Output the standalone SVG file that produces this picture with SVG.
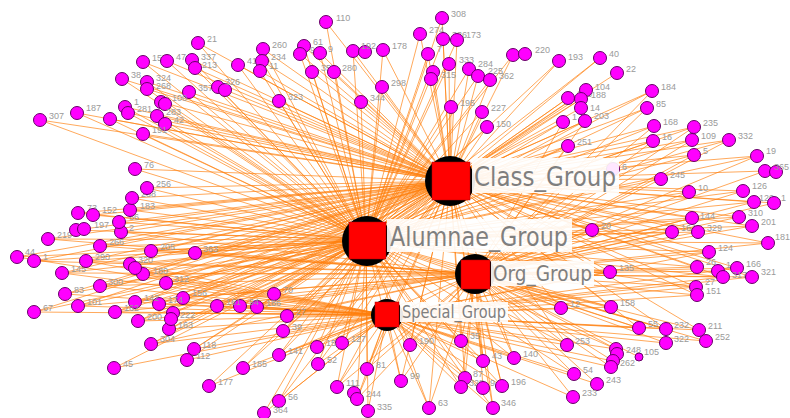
<svg xmlns="http://www.w3.org/2000/svg" width="790" height="418" viewBox="0 0 790 418">
<style>
.e{fill:none;stroke:#ff7f0e;stroke-width:0.8;stroke-opacity:0.85}
.n circle{fill:#f0f;stroke:#660066;stroke-width:1}
.n text{font-family:"Liberation Sans",Arial,sans-serif;font-size:9px;fill:#9a9a9a}
.hb{fill:#000}
.hs{fill:#f00;stroke:#b00000;stroke-width:0.5}
.lb{fill:#fff;fill-opacity:0.9}
.hl{font-family:"DejaVu Sans",Verdana,sans-serif;fill:#7f7f7f}
</style>
<rect width="790" height="418" fill="#fff"/>
<g id="connectors">
<path class="e" d="M143 62L450 181M167 61L450 181M198 43L450 181M192 60L450 181M195 68L450 181M122 79L450 181M147 82L450 181M147 89L450 181M189 92L450 181M161 102L450 181M125 107L450 181M128 113L450 181M157 116L450 181M165 124L450 181M143 134L450 181M77 113L450 181M40 120L450 181M110 119L450 181M238 65L450 181M263 49L450 181M262 61L450 181M260 71L450 181M218 87L450 181M279 101L450 181M326 22L450 181M304 46L450 181M300 54L450 181M320 53L450 181M312 72L450 181M334 72L450 181M353 51L450 181M383 50L450 181M361 102L450 181M382 87L450 181M442 18L450 181M420 34L450 181M443 39L450 181M457 40L450 181M428 54L450 181M449 64L450 181M433 72L450 181M469 69L450 181M478 76L450 181M490 80L450 181M513 55L450 181M559 61L450 181M451 107L450 181M482 112L450 181M487 127L450 181M568 98L450 181M586 90L450 181M581 99L450 181M581 108L450 181M585 121L450 181M563 122L450 181M600 58L450 181M617 73L450 181M652 91L450 181M647 108L450 181M654 126L450 181M694 127L450 181M653 141L450 181M692 140L450 181M729 140L450 181M694 155L450 181M757 156L450 181M613 169L450 181M661 179L450 181M765 171L450 181M689 192L450 181M743 191L450 181M754 202L450 181M774 203L450 181M692 218L450 181M739 217L450 181M752 226L450 181M592 230L450 181M672 232L450 181M698 232L450 181M768 243L450 181M709 252L450 181M610 272L450 181M697 267L450 181M737 268L450 181M723 277L450 181M752 277L450 181M696 287L450 181M697 295L450 181M611 307L450 181M639 328L450 181M666 329L450 181M699 330L450 181M561 308L450 181M567 345L450 181M514 358L450 181M483 361L450 181M461 341L450 181M410 345L450 181M401 381L450 181M465 378L450 181M502 386L450 181M429 408L450 181M493 408L450 181M367 369L450 181M342 343L450 181M317 347L450 181M318 364L450 181M337 387L450 181M357 399L450 181M279 401L450 181M279 355L450 181M243 368L450 181M283 331L450 181M287 316L450 181M274 294L450 181M257 307L450 181M240 306L450 181M217 306L450 181M183 298L450 181M194 349L450 181M151 344L450 181M169 329L450 181M173 313L450 181M138 321L450 181M159 304L450 181M135 302L450 181M115 312L450 181M78 306L450 181M34 312L450 181M65 294L450 181M100 286L450 181M166 283L450 181M143 274L450 181M62 273L450 181M130 264L450 181M86 261L450 181M17 257L450 181M34 261L450 181M151 251L450 181M100 246L450 181M48 239L450 181M121 232L450 181M76 230L450 181M119 222L450 181M78 213L450 181M93 215L450 181M130 210L450 181M132 198L450 181M147 188L450 181M135 169L450 181M195 253L450 181M568 146L450 181"/>
<path class="e" d="M143 62L366 240M167 61L366 240M198 43L366 240M192 60L366 240M195 68L366 240M122 79L366 240M147 82L366 240M147 89L366 240M189 92L366 240M161 102L366 240M125 107L366 240M128 113L366 240M157 116L366 240M165 124L366 240M143 134L366 240M77 113L366 240M40 120L366 240M110 119L366 240M238 65L366 240M263 49L366 240M262 61L366 240M260 71L366 240M218 87L366 240M279 101L366 240M326 22L366 240M304 46L366 240M300 54L366 240M320 53L366 240M312 72L366 240M334 72L366 240M353 51L366 240M383 50L366 240M361 102L366 240M382 87L366 240M442 18L366 240M420 34L366 240M443 39L366 240M457 40L366 240M428 54L366 240M449 64L366 240M433 72L366 240M469 69L366 240M478 76L366 240M490 80L366 240M513 55L366 240M559 61L366 240M451 107L366 240M482 112L366 240M487 127L366 240M568 98L366 240M586 90L366 240M581 99L366 240M585 121L366 240M563 122L366 240M600 58L366 240M652 91L366 240M647 108L366 240M654 126L366 240M694 127L366 240M653 141L366 240M692 140L366 240M729 140L366 240M694 155L366 240M757 156L366 240M661 179L366 240M689 192L366 240M743 191L366 240M754 202L366 240M692 218L366 240M739 217L366 240M752 226L366 240M592 230L366 240M672 232L366 240M698 232L366 240M768 243L366 240M709 252L366 240M610 272L366 240M697 267L366 240M723 277L366 240M696 287L366 240M611 307L366 240M639 328L366 240M666 329L366 240M616 349L366 240M561 308L366 240M567 345L366 240M574 374L366 240M514 358L366 240M483 361L366 240M461 341L366 240M410 345L366 240M401 381L366 240M465 378L366 240M461 387L366 240M502 386L366 240M429 408L366 240M493 408L366 240M367 369L366 240M342 343L366 240M317 347L366 240M318 364L366 240M337 387L366 240M357 399L366 240M368 411L366 240M279 401L366 240M264 413L366 240M279 355L366 240M243 368L366 240M209 386L366 240M283 331L366 240M287 316L366 240M274 294L366 240M257 307L366 240M240 306L366 240M217 306L366 240M183 298L366 240M194 349L366 240M187 360L366 240M151 344L366 240M114 368L366 240M169 329L366 240M173 313L366 240M138 321L366 240M159 304L366 240M135 302L366 240M115 312L366 240M78 306L366 240M34 312L366 240M65 294L366 240M100 286L366 240M166 283L366 240M143 274L366 240M62 273L366 240M130 264L366 240M86 261L366 240M17 257L366 240M34 261L366 240M151 251L366 240M100 246L366 240M48 239L366 240M121 232L366 240M76 230L366 240M119 222L366 240M78 213L366 240M93 215L366 240M130 210L366 240M132 198L366 240M147 188L366 240M135 169L366 240M195 253L366 240M568 146L366 240"/>
<path class="e" d="M652 91L475 274M647 108L475 274M654 126L475 274M694 127L475 274M653 141L475 274M692 140L475 274M729 140L475 274M694 155L475 274M757 156L475 274M661 179L475 274M765 171L475 274M689 192L475 274M743 191L475 274M754 202L475 274M774 203L475 274M692 218L475 274M739 217L475 274M752 226L475 274M592 230L475 274M672 232L475 274M698 232L475 274M768 243L475 274M709 252L475 274M610 272L475 274M697 267L475 274M737 268L475 274M718 271L475 274M723 277L475 274M752 277L475 274M696 287L475 274M697 295L475 274M611 307L475 274M639 328L475 274M666 329L475 274M666 343L475 274M699 330L475 274M706 341L475 274M616 349L475 274M639 357L475 274M613 361L475 274M611 367L475 274M597 384L475 274M561 308L475 274M567 345L475 274M574 374L475 274M573 397L475 274M514 358L475 274M483 361L475 274M461 341L475 274M410 345L475 274M401 381L475 274M465 378L475 274M461 387L475 274M483 388L475 274M502 386L475 274M429 408L475 274M493 408L475 274M367 369L475 274M342 343L475 274M337 387L475 274M357 399L475 274M279 355L475 274M287 316L475 274M257 307L475 274M217 306L475 274M183 298L475 274M151 344L475 274M138 321L475 274M115 312L475 274M78 306L475 274M100 286L475 274M143 274L475 274M62 273L475 274M86 261L475 274M34 261L475 274M151 251L475 274M100 246L475 274M48 239L475 274M121 232L475 274M195 253L475 274M568 146L475 274M585 121L475 274M563 122L475 274"/>
<path class="e" d="M696 287L387 315M697 295L387 315M611 307L387 315M639 328L387 315M666 329L387 315M666 343L387 315M699 330L387 315M706 341L387 315M616 349L387 315M613 361L387 315M611 367L387 315M597 384L387 315M561 308L387 315M567 345L387 315M574 374L387 315M573 397L387 315M514 358L387 315M483 361L387 315M461 341L387 315M410 345L387 315M401 381L387 315M465 378L387 315M461 387L387 315M483 388L387 315M502 386L387 315M429 408L387 315M493 408L387 315M367 369L387 315M342 343L387 315M317 347L387 315M318 364L387 315M337 387L387 315M357 399L387 315M368 411L387 315M279 401L387 315M264 413L387 315M279 355L387 315M243 368L387 315M209 386L387 315M283 331L387 315M287 316L387 315M274 294L387 315M257 307L387 315M240 306L387 315M217 306L387 315M183 298L387 315M194 349L387 315M187 360L387 315M151 344L387 315M114 368L387 315M169 329L387 315M173 313L387 315M138 321L387 315M159 304L387 315M135 302L387 315M115 312L387 315M78 306L387 315M34 312L387 315M65 294L387 315M100 286L387 315M166 283L387 315M143 274L387 315M62 273L387 315M130 264L387 315M86 261L387 315M17 257L387 315M610 272L387 315M723 277L387 315M752 277L387 315M737 268L387 315M709 252L387 315"/>
</g>
<g id="hub-shadows">
<circle class="hb" cx="450" cy="181" r="25"/>
<circle class="hb" cx="367" cy="241" r="25"/>
<circle class="hb" cx="475" cy="274" r="20"/>
<circle class="hb" cx="387" cy="315" r="16"/>
</g>
<g id="nodes">
<g id="n157" class="n"><circle cx="143" cy="62" r="6.5"/><text x="152" y="61">157</text></g>
<g id="n47" class="n"><circle cx="167" cy="61" r="6.5"/><text x="176" y="60">47</text></g>
<g id="n21" class="n"><circle cx="198" cy="43" r="6.5"/><text x="207" y="42">21</text></g>
<g id="n337" class="n"><circle cx="192" cy="60" r="6.5"/><text x="201" y="60">337</text></g>
<g id="n213" class="n"><circle cx="195" cy="68" r="6.5"/><text x="202" y="68">213</text></g>
<g id="n38" class="n"><circle cx="122" cy="79" r="6.5"/><text x="131" y="78">38</text></g>
<g id="n324" class="n"><circle cx="147" cy="82" r="6.5"/><text x="156" y="81">324</text></g>
<g id="n268" class="n"><circle cx="147" cy="89" r="6.5"/><text x="156" y="89">268</text></g>
<g id="n357" class="n"><circle cx="189" cy="92" r="6.5"/><text x="198" y="91">357</text></g>
<g id="n100" class="n"><circle cx="161" cy="102" r="6.5"/><circle cx="165" cy="104" r="6.5"/><text x="172" y="101">100</text></g>
<g id="n108" class="n"><circle cx="125" cy="107" r="6.5"/><text x="134" y="105">1</text></g>
<g id="n281" class="n"><circle cx="128" cy="113" r="6.5"/><text x="137" y="112">281</text></g>
<g id="n283" class="n"><circle cx="157" cy="116" r="6.5"/><text x="166" y="115">283</text></g>
<g id="n42" class="n"><circle cx="165" cy="124" r="6.5"/><text x="174" y="123">42</text></g>
<g id="n191" class="n"><circle cx="143" cy="134" r="6.5"/><text x="152" y="133">191</text></g>
<g id="n187" class="n"><circle cx="77" cy="113" r="6.5"/><text x="86" y="111">187</text></g>
<g id="n307" class="n"><circle cx="40" cy="120" r="6.5"/><text x="49" y="119">307</text></g>
<g id="nx1" class="n"><circle cx="110" cy="119" r="6.5"/></g>
<g id="n41" class="n"><circle cx="238" cy="65" r="6.5"/><text x="247" y="64">41</text></g>
<g id="n260" class="n"><circle cx="263" cy="49" r="6.5"/><text x="272" y="48">260</text></g>
<g id="n234" class="n"><circle cx="262" cy="61" r="6.5"/><text x="271" y="60">234</text></g>
<g id="n11" class="n"><circle cx="260" cy="71" r="6.5"/><text x="269" y="69">11</text></g>
<g id="n326" class="n"><circle cx="218" cy="87" r="6.5"/><circle cx="225" cy="90" r="6.5"/><text x="225" y="85">326</text></g>
<g id="n323" class="n"><circle cx="279" cy="101" r="6.5"/><text x="288" y="100">323</text></g>
<g id="n110" class="n"><circle cx="326" cy="22" r="6.5"/><text x="336" y="21">110</text></g>
<g id="n61" class="n"><circle cx="304" cy="46" r="6.5"/><text x="313" y="45">61</text></g>
<g id="n96" class="n"><circle cx="300" cy="54" r="6.5"/><text x="310" y="53">96</text></g>
<g id="n9a" class="n"><circle cx="320" cy="53" r="6.5"/><text x="328" y="52">9</text></g>
<g id="n358" class="n"><circle cx="312" cy="72" r="6.5"/><text x="321" y="71">358</text></g>
<g id="n280" class="n"><circle cx="334" cy="72" r="6.5"/><text x="342" y="71">280</text></g>
<g id="n192" class="n"><circle cx="353" cy="51" r="6.5"/><circle cx="365" cy="52" r="6.5"/><text x="361" y="49">192</text></g>
<g id="n178" class="n"><circle cx="383" cy="50" r="6.5"/><text x="392" y="49">178</text></g>
<g id="n344" class="n"><circle cx="361" cy="102" r="6.5"/><text x="370" y="101">344</text></g>
<g id="n298" class="n"><circle cx="382" cy="87" r="6.5"/><text x="391" y="86">298</text></g>
<g id="n308" class="n"><circle cx="442" cy="18" r="6.5"/><text x="451" y="17">308</text></g>
<g id="n274" class="n"><circle cx="420" cy="34" r="6.5"/><text x="429" y="33">274</text></g>
<g id="n336" class="n"><circle cx="443" cy="39" r="6.5"/><text x="452" y="38">336</text></g>
<g id="n173" class="n"><circle cx="457" cy="40" r="6.5"/><text x="466" y="38">173</text></g>
<g id="n7" class="n"><circle cx="428" cy="54" r="6.5"/><text x="437" y="52">7</text></g>
<g id="n333" class="n"><circle cx="449" cy="64" r="6.5"/><text x="459" y="63">333</text></g>
<g id="n315" class="n"><circle cx="433" cy="72" r="6.5"/><circle cx="431" cy="79" r="6.5"/><text x="441" y="78">315</text></g>
<g id="n284" class="n"><circle cx="469" cy="69" r="6.5"/><text x="478" y="67">284</text></g>
<g id="n225" class="n"><circle cx="478" cy="76" r="6.5"/><text x="488" y="74">225</text></g>
<g id="n362" class="n"><circle cx="490" cy="80" r="6.5"/><text x="499" y="79">362</text></g>
<g id="n220" class="n"><circle cx="513" cy="55" r="6.5"/><circle cx="525" cy="54" r="6.5"/><text x="535" y="53">220</text></g>
<g id="n193" class="n"><circle cx="559" cy="61" r="6.5"/><text x="568" y="60">193</text></g>
<g id="n195" class="n"><circle cx="451" cy="107" r="6.5"/><text x="460" y="106">195</text></g>
<g id="n227" class="n"><circle cx="482" cy="112" r="6.5"/><text x="491" y="111">227</text></g>
<g id="n150" class="n"><circle cx="487" cy="127" r="6.5"/><text x="496" y="127">150</text></g>
<g id="n206" class="n"><circle cx="568" cy="98" r="6.5"/><text x="577" y="97">206</text></g>
<g id="n104" class="n"><circle cx="586" cy="90" r="6.5"/><text x="595" y="90">104</text></g>
<g id="n188" class="n"><circle cx="581" cy="99" r="6.5"/><text x="591" y="98">188</text></g>
<g id="n14" class="n"><circle cx="581" cy="108" r="6.5"/><text x="590" y="111">14</text></g>
<g id="n203" class="n"><circle cx="585" cy="121" r="6.5"/><text x="594" y="119">203</text></g>
<g id="n1c" class="n"><circle cx="563" cy="122" r="6.5"/><text x="572" y="120">1</text></g>
<g id="n40" class="n"><circle cx="600" cy="58" r="6.5"/><text x="609" y="57">40</text></g>
<g id="n22" class="n"><circle cx="617" cy="73" r="6.5"/><text x="626" y="72">22</text></g>
<g id="n184" class="n"><circle cx="652" cy="91" r="6.5"/><text x="661" y="90">184</text></g>
<g id="n85" class="n"><circle cx="647" cy="108" r="6.5"/><text x="656" y="107">85</text></g>
<g id="n168" class="n"><circle cx="654" cy="126" r="6.5"/><text x="663" y="125">168</text></g>
<g id="n235" class="n"><circle cx="694" cy="127" r="6.5"/><text x="703" y="126">235</text></g>
<g id="n16" class="n"><circle cx="653" cy="141" r="6.5"/><text x="662" y="140">16</text></g>
<g id="n109" class="n"><circle cx="692" cy="140" r="6.5"/><text x="701" y="139">109</text></g>
<g id="n332" class="n"><circle cx="729" cy="140" r="6.5"/><text x="738" y="139">332</text></g>
<g id="n5" class="n"><circle cx="694" cy="155" r="6.5"/><text x="703" y="154">5</text></g>
<g id="n19" class="n"><circle cx="757" cy="156" r="6.5"/><text x="766" y="154">19</text></g>
<g id="n6" class="n"><circle cx="613" cy="169" r="6.5"/><text x="622" y="170">6</text></g>
<g id="n245" class="n"><circle cx="661" cy="179" r="6.5"/><text x="670" y="178">245</text></g>
<g id="n365" class="n"><circle cx="765" cy="171" r="6.5"/><circle cx="776" cy="172" r="6.5"/><text x="774" y="170">365</text></g>
<g id="n10" class="n"><circle cx="689" cy="192" r="6.5"/><text x="698" y="191">10</text></g>
<g id="n126" class="n"><circle cx="743" cy="191" r="6.5"/><text x="752" y="189">126</text></g>
<g id="n120" class="n"><circle cx="754" cy="202" r="6.5"/><text x="759" y="201">120</text></g>
<g id="n1d" class="n"><circle cx="774" cy="203" r="6.5"/><text x="781" y="201">1</text></g>
<g id="n144" class="n"><circle cx="692" cy="218" r="6.5"/><text x="700" y="219">144</text></g>
<g id="n310" class="n"><circle cx="739" cy="217" r="6.5"/><text x="748" y="216">310</text></g>
<g id="n201" class="n"><circle cx="752" cy="226" r="6.5"/><text x="761" y="225">201</text></g>
<g id="n20" class="n"><circle cx="592" cy="230" r="6.5"/><text x="601" y="229">20</text></g>
<g id="n164" class="n"><circle cx="672" cy="232" r="6.5"/><text x="681" y="231">164</text></g>
<g id="n329" class="n"><circle cx="698" cy="232" r="6.5"/><text x="707" y="231">329</text></g>
<g id="n181" class="n"><circle cx="768" cy="243" r="6.5"/><text x="775" y="240">181</text></g>
<g id="n124" class="n"><circle cx="709" cy="252" r="6.5"/><text x="718" y="251">124</text></g>
<g id="n135" class="n"><circle cx="610" cy="272" r="6.5"/><text x="619" y="271">135</text></g>
<g id="n26" class="n"><circle cx="697" cy="267" r="6.5"/><text x="706" y="265">26</text></g>
<g id="n1e" class="n"><circle cx="718" cy="271" r="6.5"/><text x="726" y="268">1</text></g>
<g id="n166" class="n"><circle cx="737" cy="268" r="6.5"/><text x="746" y="267">166</text></g>
<g id="n317" class="n"><circle cx="723" cy="277" r="6.5"/><text x="732" y="278">317</text></g>
<g id="n321" class="n"><circle cx="752" cy="277" r="6.5"/><text x="761" y="275">321</text></g>
<g id="n27a" class="n"><circle cx="696" cy="287" r="6.5"/><text x="705" y="285">27</text></g>
<g id="n151" class="n"><circle cx="697" cy="295" r="6.5"/><text x="706" y="294">151</text></g>
<g id="n158" class="n"><circle cx="611" cy="307" r="6.5"/><text x="620" y="306">158</text></g>
<g id="n55" class="n"><circle cx="639" cy="328" r="6.5"/><text x="648" y="327">55</text></g>
<g id="n232" class="n"><circle cx="666" cy="329" r="6.5"/><text x="674" y="328">232</text></g>
<g id="n322" class="n"><circle cx="666" cy="343" r="6.5"/><text x="674" y="342">322</text></g>
<g id="n211" class="n"><circle cx="699" cy="330" r="6.5"/><text x="708" y="329">211</text></g>
<g id="n252" class="n"><circle cx="706" cy="341" r="6.5"/><text x="715" y="340">252</text></g>
<g id="n248" class="n"><circle cx="616" cy="349" r="6.5"/><circle cx="617" cy="354" r="6.5"/><text x="626" y="353">248</text></g>
<g id="n105" class="n"><circle cx="639" cy="357" r="4"/><text x="644" y="355">105</text></g>
<g id="n262" class="n"><circle cx="613" cy="361" r="6.5"/><text x="620" y="366">262</text></g>
<g id="nx2" class="n"><circle cx="611" cy="367" r="6.5"/></g>
<g id="n243" class="n"><circle cx="597" cy="384" r="6.5"/><text x="606" y="383">243</text></g>
<g id="n12" class="n"><circle cx="561" cy="308" r="6.5"/><text x="570" y="307">12</text></g>
<g id="n253" class="n"><circle cx="567" cy="345" r="6.5"/><text x="575" y="344">253</text></g>
<g id="n54" class="n"><circle cx="574" cy="374" r="6.5"/><text x="583" y="373">54</text></g>
<g id="n233" class="n"><circle cx="573" cy="397" r="6.5"/><text x="582" y="396">233</text></g>
<g id="n140" class="n"><circle cx="514" cy="358" r="6.5"/><text x="523" y="357">140</text></g>
<g id="n43" class="n"><circle cx="483" cy="361" r="6.5"/><text x="492" y="359">43</text></g>
<g id="n35" class="n"><circle cx="461" cy="341" r="6.5"/><text x="470" y="339">35</text></g>
<g id="n190" class="n"><circle cx="410" cy="345" r="6.5"/><text x="419" y="344">190</text></g>
<g id="n99" class="n"><circle cx="401" cy="381" r="6.5"/><text x="410" y="379">99</text></g>
<g id="n87" class="n"><circle cx="465" cy="378" r="6.5"/><text x="473" y="377">87</text></g>
<g id="n328" class="n"><circle cx="461" cy="387" r="6.5"/><text x="469" y="386">328</text></g>
<g id="n9b" class="n"><circle cx="483" cy="388" r="6.5"/><text x="490" y="386">9</text></g>
<g id="n196" class="n"><circle cx="502" cy="386" r="6.5"/><text x="511" y="385">196</text></g>
<g id="n63" class="n"><circle cx="429" cy="408" r="6.5"/><text x="438" y="406">63</text></g>
<g id="n346" class="n"><circle cx="493" cy="408" r="6.5"/><text x="501" y="406">346</text></g>
<g id="n81" class="n"><circle cx="367" cy="369" r="6.5"/><text x="376" y="368">81</text></g>
<g id="n127" class="n"><circle cx="342" cy="343" r="6.5"/><text x="351" y="342">127</text></g>
<g id="n15" class="n"><circle cx="317" cy="347" r="6.5"/><text x="326" y="346">15</text></g>
<g id="n52" class="n"><circle cx="318" cy="364" r="6.5"/><text x="327" y="363">52</text></g>
<g id="n111" class="n"><circle cx="337" cy="387" r="6.5"/><text x="346" y="386">111</text></g>
<g id="n244" class="n"><circle cx="354" cy="393" r="6.5"/><circle cx="357" cy="399" r="6.5"/><text x="366" y="397">244</text></g>
<g id="n335" class="n"><circle cx="368" cy="411" r="6.5"/><text x="377" y="410">335</text></g>
<g id="n56" class="n"><circle cx="279" cy="401" r="6.5"/><text x="288" y="400">56</text></g>
<g id="n364" class="n"><circle cx="264" cy="413" r="6.5"/><text x="273" y="413">364</text></g>
<g id="n141" class="n"><circle cx="279" cy="355" r="6.5"/><text x="288" y="354">141</text></g>
<g id="n185" class="n"><circle cx="243" cy="368" r="6.5"/><text x="252" y="367">185</text></g>
<g id="n177" class="n"><circle cx="209" cy="386" r="6.5"/><text x="218" y="385">177</text></g>
<g id="n39" class="n"><circle cx="283" cy="331" r="6.5"/><text x="292" y="330">39</text></g>
<g id="n27b" class="n"><circle cx="287" cy="316" r="6.5"/><text x="296" y="315">27</text></g>
<g id="n70" class="n"><circle cx="274" cy="294" r="6.5"/><text x="283" y="293">70</text></g>
<g id="n186" class="n"><circle cx="257" cy="307" r="6.5"/><text x="266" y="306">186</text></g>
<g id="n94" class="n"><circle cx="240" cy="306" r="6.5"/><text x="249" y="305">94</text></g>
<g id="n161" class="n"><circle cx="217" cy="306" r="6.5"/><text x="226" y="305">161</text></g>
<g id="n156" class="n"><circle cx="183" cy="298" r="6.5"/><text x="192" y="296">156</text></g>
<g id="n118" class="n"><circle cx="194" cy="349" r="6.5"/><text x="202" y="348">118</text></g>
<g id="n112" class="n"><circle cx="187" cy="360" r="6.5"/><text x="196" y="359">112</text></g>
<g id="n304" class="n"><circle cx="151" cy="344" r="6.5"/><text x="160" y="342">304</text></g>
<g id="n45" class="n"><circle cx="114" cy="368" r="6.5"/><text x="123" y="367">45</text></g>
<g id="n163" class="n"><circle cx="169" cy="329" r="6.5"/><text x="178" y="328">163</text></g>
<g id="n222" class="n"><circle cx="173" cy="313" r="6.5"/><circle cx="171" cy="319" r="6.5"/><text x="180" y="318">222</text></g>
<g id="n200" class="n"><circle cx="138" cy="321" r="6.5"/><text x="147" y="320">200</text></g>
<g id="n174" class="n"><circle cx="159" cy="304" r="6.5"/><text x="168" y="303">174</text></g>
<g id="n142" class="n"><circle cx="135" cy="302" r="6.5"/><text x="144" y="301">142</text></g>
<g id="n162" class="n"><circle cx="115" cy="312" r="6.5"/><text x="124" y="311">162</text></g>
<g id="n101" class="n"><circle cx="78" cy="306" r="6.5"/><text x="87" y="305">101</text></g>
<g id="n67" class="n"><circle cx="34" cy="312" r="6.5"/><text x="43" y="311">67</text></g>
<g id="n83" class="n"><circle cx="65" cy="294" r="6.5"/><text x="74" y="293">83</text></g>
<g id="n300" class="n"><circle cx="100" cy="286" r="6.5"/><text x="108" y="285">300</text></g>
<g id="n312" class="n"><circle cx="166" cy="283" r="6.5"/><text x="174" y="282">312</text></g>
<g id="n180" class="n"><circle cx="143" cy="274" r="6.5"/><text x="153" y="274">180</text></g>
<g id="n145" class="n"><circle cx="62" cy="273" r="6.5"/><text x="71" y="272">145</text></g>
<g id="n320" class="n"><circle cx="130" cy="264" r="6.5"/><circle cx="135" cy="268" r="6.5"/><text x="138" y="263">320</text></g>
<g id="n290" class="n"><circle cx="86" cy="261" r="6.5"/><text x="95" y="260">290</text></g>
<g id="n44" class="n"><circle cx="17" cy="257" r="6.5"/><text x="25" y="255">44</text></g>
<g id="n1f" class="n"><circle cx="34" cy="261" r="6.5"/><text x="43" y="260">1</text></g>
<g id="n205" class="n"><circle cx="151" cy="251" r="6.5"/><text x="160" y="250">205</text></g>
<g id="n266" class="n"><circle cx="100" cy="246" r="6.5"/><text x="109" y="245">266</text></g>
<g id="n219" class="n"><circle cx="48" cy="239" r="6.5"/><text x="57" y="238">219</text></g>
<g id="n2" class="n"><circle cx="121" cy="232" r="6.5"/><text x="129" y="231">2</text></g>
<g id="n197" class="n"><circle cx="76" cy="230" r="6.5"/><circle cx="84" cy="229" r="6.5"/><text x="94" y="228">197</text></g>
<g id="n86" class="n"><circle cx="119" cy="222" r="6.5"/><text x="129" y="220">86</text></g>
<g id="n73" class="n"><circle cx="78" cy="213" r="6.5"/><text x="87" y="211">73</text></g>
<g id="n152" class="n"><circle cx="93" cy="215" r="6.5"/><text x="102" y="213">152</text></g>
<g id="n183" class="n"><circle cx="130" cy="210" r="6.5"/><text x="140" y="209">183</text></g>
<g id="n288" class="n"><circle cx="132" cy="198" r="6.5"/><text x="141" y="197">288</text></g>
<g id="n256" class="n"><circle cx="147" cy="188" r="6.5"/><text x="156" y="187">256</text></g>
<g id="n76" class="n"><circle cx="135" cy="169" r="6.5"/><text x="144" y="168">76</text></g>
<g id="n363" class="n"><circle cx="195" cy="253" r="6.5"/><text x="203" y="252">363</text></g>
<g id="n251" class="n"><circle cx="568" cy="146" r="6.5"/><text x="577" y="145">251</text></g>
</g>
<g id="Class_Group">
<rect class="hs" x="432" y="162" width="38" height="38"/>
<rect class="lb" x="472" y="158" width="147" height="35"/>
<text class="hl" x="474" y="186" font-size="27" textLength="142" lengthAdjust="spacingAndGlyphs">Class_Group</text>
</g>
<g id="Alumnae_Group">
<rect class="hs" x="349" y="222" width="37" height="37"/>
<rect class="lb" x="387" y="219" width="185" height="33"/>
<text class="hl" x="390" y="246" font-size="27" textLength="178" lengthAdjust="spacingAndGlyphs">Alumnae_Group</text>
</g>
<g id="Org_Group">
<rect class="hs" x="461" y="260" width="29" height="29"/>
<rect class="lb" x="491" y="261" width="103" height="25"/>
<text class="hl" x="493" y="281" font-size="21" textLength="99" lengthAdjust="spacingAndGlyphs">Org_Group</text>
</g>
<g id="Special_Group">
<rect class="hs" x="375" y="302" width="24" height="25"/>
<rect class="lb" x="400" y="302" width="108" height="20"/>
<text class="hl" x="402" y="318" font-size="17" textLength="104" lengthAdjust="spacingAndGlyphs">Special_Group</text>
</g>
</svg>
